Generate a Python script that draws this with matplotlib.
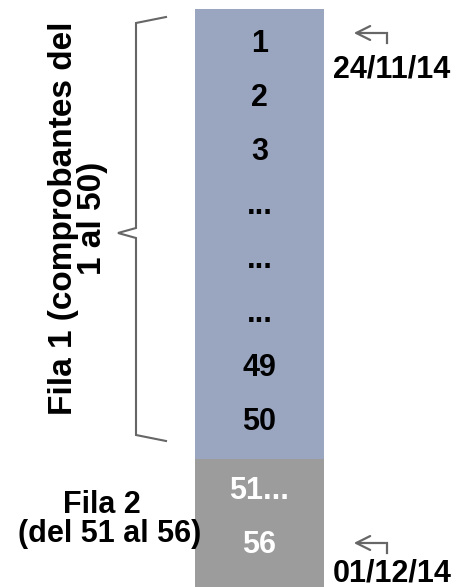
import matplotlib
matplotlib.use('Agg')
import matplotlib.pyplot as plt

plt.rcParams['font.family'] = ['Liberation Sans', 'DejaVu Sans']

# data
fila1_labels = ['1', '2', '3', '...', '...', '...', '49', '50']
fila2_labels = ['51...', '56']
dates = ['24/11/14', '01/12/14']
fila1_title = 'Fila 1 (comprobantes del\n1 al 50)'
fila2_title = ['Fila 2', '(del 51 al 56)']

blue = '#9aa6bf'
grey = '#9c9c9c'
line_col = '#666666'

fig = plt.figure(figsize=(4.66, 5.87), dpi=100)
ax = fig.add_axes([0, 0, 1, 1])
ax.set_xlim(0, 466)
ax.set_ylim(587, 0)
ax.axis('off')

# column blocks
col_x, col_w = 259.5, 129
ax.bar(col_x, 450, bottom=9, width=col_w, color=blue, linewidth=0)
ax.bar(col_x, 130, bottom=459, width=col_w, color=grey, linewidth=0)

# row labels (baselines every 54 px)
for i, lab in enumerate(fila1_labels):
    ax.text(col_x, 52 + 54 * i, lab, ha='center', va='baseline',
            fontsize=22, fontweight='bold', color='black')
for i, lab in enumerate(fila2_labels):
    ax.text(col_x, 499 + 54 * i, lab, ha='center', va='baseline',
            fontsize=22, fontweight='bold', color='white')

# brace
bx = [166, 136, 136, 118, 136, 136, 166]
by = [17, 23, 228, 233, 238, 435, 441]
ax.plot(bx, by, color=line_col, linewidth=1.5, solid_joinstyle='miter')

ax.text(78, 218, fila1_title, rotation=90, ha='center', va='center',
        multialignment='center', fontsize=24, fontweight='bold',
        linespacing=0.92)

# Fila 2 label
ax.text(102, 513, fila2_title[0], ha='center', va='baseline',
        fontsize=22, fontweight='bold')
ax.text(110, 542, fila2_title[1], ha='center', va='baseline',
        fontsize=22, fontweight='bold')

# date arrows
for y_arrow, y_text, d in [(33, 77, dates[0]), (543, 581, dates[1])]:
    ax.annotate('', xy=(351, y_arrow), xytext=(388, y_arrow),
                arrowprops=dict(arrowstyle='->,head_length=1.0,head_width=0.5',
                                color=line_col, lw=1.6))
    ax.plot([387, 387], [y_arrow, y_arrow + 10], color=line_col, linewidth=1.6)
    ax.text(392, y_text, d, ha='center', va='baseline',
            fontsize=22, fontweight='bold')

fig.savefig('out.png', dpi=100)
